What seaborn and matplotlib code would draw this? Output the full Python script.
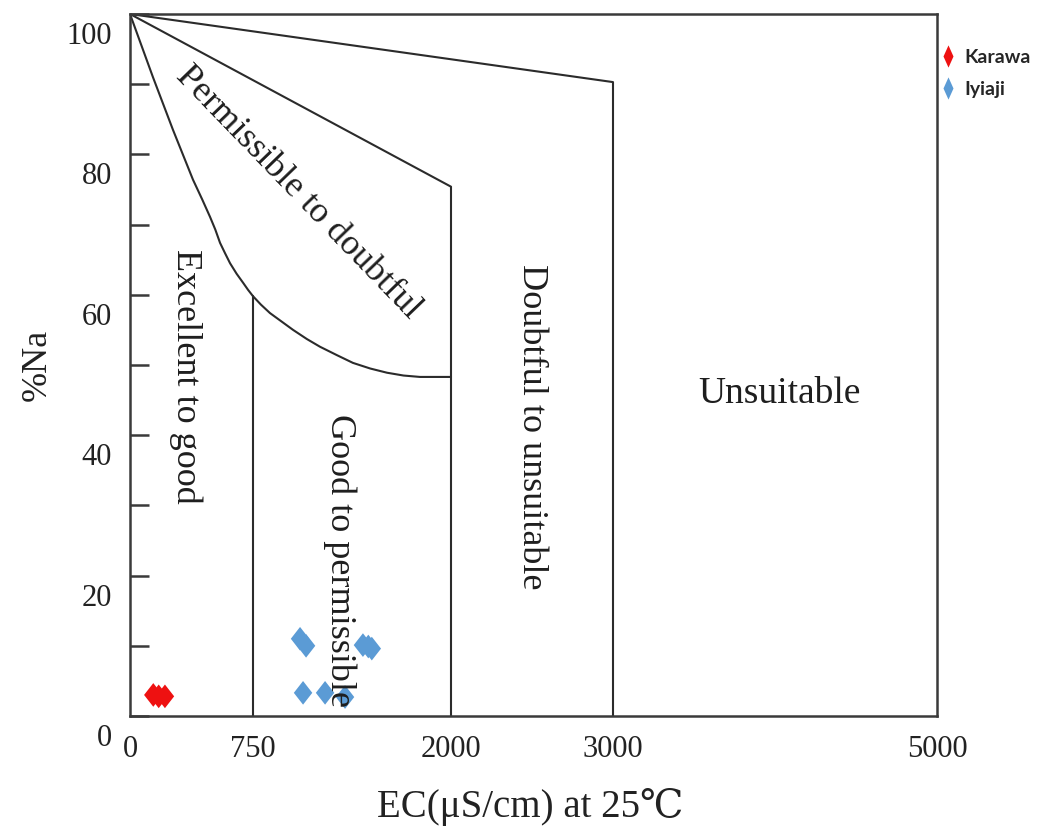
import numpy as np
import pandas as pd
import matplotlib
matplotlib.use("Agg")
import matplotlib.pyplot as plt
from matplotlib.lines import Line2D
from matplotlib.transforms import ScaledTranslation
import seaborn as sns

# ---------------- data ----------------
karawa_ec = [142, 175, 213]
karawa_na = [3.0, 2.8, 2.8]
iyiaji_ec = [1047, 1085, 1444, 1478, 1500, 1066, 1205, 1331]
iyiaji_na = [11.0, 10.0, 10.1, 9.9, 9.6, 3.3, 3.3, 2.7]
series_names = ["Karawa", "Iyiaji"]

# Wilcox diagram boundaries (EC, %Na)
top_line_ec = [0, 3000, 3000]
top_line_na = [100, 90.3, 0]
mid_line_ec = [0, 2000, 2000]
mid_line_na = [100, 75.4, 0]
curve_ec = [0, 140, 262, 384, 440, 488, 520, 549, 580, 610, 650, 690, 720, 750,
            800, 857, 930, 1003, 1090, 1173, 1280, 1381, 1490, 1596, 1700, 1804, 2000]
curve_na = [100, 91.0, 83.5, 76.4, 73.6, 71.1, 69.3, 67.4, 65.9, 64.5, 63.0, 61.7,
            60.7, 59.8, 58.6, 57.4, 56.2, 55.0, 53.7, 52.6, 51.4, 50.3, 49.5, 48.9,
            48.5, 48.3, 48.3]
v750_ec = [750, 750]
v750_na = [59.8, 0]

x_ticks = [0, 750, 2000, 3000, 5000]
x_tick_labels = ["0", "750", "2000", "3000", "5000"]
y_ticks = [0, 20, 40, 60, 80, 100]
y_minor = [10, 30, 50, 70, 90]

region_labels = ["Permissible to doubtful", "Excellent to good", "Good to permissible",
                 "Doubtful to unsuitable", "Unsuitable"]
region_ec = [1034, 341, 1299, 2494, 4025]
region_na = [74.6, 48.4, 22.2, 41.2, 44.6]

# axis break spacing (non-linear EC axis)
axis_pos = [0, 123, 321, 483, 807]

# ---------------- style ----------------
sns.set_style("white")
plt.rcParams["font.family"] = ["Liberation Serif", "DejaVu Serif"]

colors = {"Karawa": "#EE1111", "Iyiaji": "#5B9BD5"}
line_col = "#2b2b2b"

fig = plt.figure(figsize=(10.4, 8.27), dpi=100)
ax = fig.add_axes([130 / 1040, 111 / 827, 807 / 1040, 702 / 827])


def fwd(v):
    return np.interp(v, x_ticks, axis_pos)


def inv(v):
    return np.interp(v, axis_pos, x_ticks)


ax.set_xscale("function", functions=(fwd, inv))

# boundaries
for xs, ys in [(top_line_ec, top_line_na), (mid_line_ec, mid_line_na),
               (curve_ec, curve_na), (v750_ec, v750_na)]:
    ax.plot(xs, ys, color=line_col, lw=1.5, solid_joinstyle="round", zorder=2)

# points
df = pd.DataFrame({
    "EC": karawa_ec + iyiaji_ec,
    "Na": karawa_na + iyiaji_na,
    "Site": ["Karawa"] * len(karawa_ec) + ["Iyiaji"] * len(iyiaji_ec),
})
diamond = [(0, 1), (0.78, 0), (0, -1), (-0.78, 0), (0, 1)]
sns.scatterplot(data=df, x="EC", y="Na", hue="Site", palette=colors,
                marker=diamond, s=290, linewidth=0, legend=False, ax=ax, zorder=3)

# region labels
rots = [-46, -90, -90, -90, 0]
for lab, ex, ny, r in zip(region_labels, region_ec, region_na, rots):
    if r == 0:
        ax.text(ex, ny, lab, fontsize=27, rotation=r, ha="center", va="baseline",
                color="#1e1e1e", zorder=4)
    else:
        ax.text(ex, ny, lab, fontsize=26, rotation=r, ha="center", va="center",
                rotation_mode="anchor", color="#1e1e1e", zorder=4)

ax.set_xlim(0, 5000)
ax.set_ylim(0, 100)
ax.set_xticks(x_ticks)
ax.set_xticklabels(x_tick_labels)
ax.set_yticks(y_ticks)
ax.set_yticklabels([str(v) for v in y_ticks])
ax.set_yticks(y_minor, minor=True)

ax.tick_params(axis="x", length=0, pad=14, labelsize=22, colors="#222222")
ax.tick_params(axis="y", which="both", direction="in", length=14, width=1.8,
               color="#3a3a3a", left=True, right=False)
ax.tick_params(axis="y", which="major", pad=13, labelsize=22, labelcolor="#222222")

for sp in ax.spines.values():
    sp.set_visible(True)
    sp.set_color("#3a3a3a")
    sp.set_linewidth(1.8)

ax.set_xlabel("EC(μS/cm) at 25℃", fontsize=28, color="#222222")
ax.set_ylabel("%Na", fontsize=26, color="#222222")
ax.xaxis.set_label_coords(0.496, -0.103)
ax.yaxis.set_label_coords(-0.094, 0.5)

# y tick labels sit a little below their ticks in the original
offset = ScaledTranslation(0, -0.19, fig.dpi_scale_trans)
for t in ax.yaxis.get_major_ticks():
    t.label1.set_transform(t.label1.get_transform() + offset)

# legend outside on the right
handles = [Line2D([0], [0], marker=[(0, 1), (0.45, 0), (0, -1), (-0.45, 0), (0, 1)],
                  linestyle="none", markersize=16, markerfacecolor=colors[n],
                  markeredgewidth=0) for n in series_names]
leg = ax.legend(handles, series_names, loc="upper left",
                bbox_to_anchor=(938 / 1040, (827 - 49) / 827),
                bbox_transform=fig.transFigure, frameon=False,
                handlelength=1.0, handletextpad=0.35, labelspacing=0.75,
                borderaxespad=0, borderpad=0,
                prop={"family": "Lato", "weight": "bold", "size": 14})

fig.savefig("out.png", dpi=100, facecolor="white")
